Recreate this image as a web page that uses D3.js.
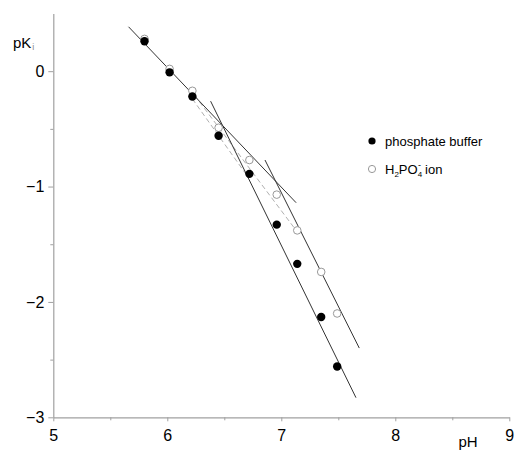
<!DOCTYPE html>
<html>
<head>
<meta charset="utf-8">
<script src="https://cdn.jsdelivr.net/npm/d3@7"></script>
<style>
  body { margin: 0; background: #fff; }
  svg { font-family: "Liberation Sans", Arial, sans-serif; }
</style>
</head>
<body>
<svg id="chart" width="515" height="451"></svg>
<script>
// measured values
const phBuffer = [5.80, 6.02, 6.22, 6.45, 6.72, 6.96, 7.14, 7.35, 7.49]
const pkBuffer = [0.26, -0.01, -0.22, -0.56, -0.89, -1.33, -1.67, -2.13, -2.56]
const phIon = [5.80, 6.02, 6.22, 6.45, 6.72, 6.96, 7.14, 7.35, 7.49]
const pkIon = [0.28, 0.02, -0.17, -0.49, -0.77, -1.07, -1.38, -1.74, -2.10]

// fitted lines, [x1, y1, x2, y2]
const solidFits = [
  [5.66, 0.385, 7.13, -1.14],
  [6.38, -0.26, 7.655, -2.83],
  [6.857, -0.77, 7.684, -2.40]
]
const dashedFits = [
  [6.22, -0.24, 6.71, -0.92],
  [6.24, -0.21, 7.13, -1.38]
]

const xTicks = [5, 6, 7, 8, 9]
const xMinor = [5.5, 6.5, 7.5, 8.5]
const yTicks = [-3, -2, -1, 0]
const yMinor = [-2.5, -1.5, -0.5]

const svg = d3.select("#chart")

const x = d3.scaleLinear().domain([5, 9]).range([53.3, 509.3])
const y = d3.scaleLinear().domain([-3, 0.5]).range([417.3, 13.5])

const axisColor = "#a0a0a0"

// x axis
const gx = svg.append("g").attr("transform", `translate(0,${y(-3)})`)
gx.call(d3.axisBottom(x).tickValues(xTicks).tickSize(4).tickSizeOuter(0).tickPadding(8).tickFormat(d3.format("d")))
gx.append("g").call(d3.axisBottom(x).tickValues(xMinor).tickSize(3).tickSizeOuter(0).tickFormat(""))
  .select(".domain").remove()

// y axis
const gy = svg.append("g").attr("transform", `translate(${x(5)},0)`)
gy.call(d3.axisLeft(y).tickValues(yTicks).tickSize(5).tickSizeOuter(0).tickPadding(4).tickFormat(d3.format("d")))
gy.append("g").call(d3.axisLeft(y).tickValues(yMinor).tickSize(3).tickSizeOuter(0).tickFormat(""))
  .select(".domain").remove()

svg.selectAll(".domain").attr("stroke", axisColor).attr("stroke-width", 1.2)
svg.selectAll(".tick line").attr("stroke", axisColor)
svg.selectAll(".tick text")
  .attr("fill", "#000")
  .style("font-size", "16px")

// axis titles
const yTitle = svg.append("text")
  .attr("x", 13)
  .attr("y", 48)
  .style("font-size", "15px")
  .attr("fill", "#000")
yTitle.append("tspan").text("pK")
yTitle.append("tspan").text("i").attr("dx", 1).attr("dy", 2).style("font-size", "9px").attr("fill", "#888")

svg.append("text")
  .attr("x", 468)
  .attr("y", 447)
  .attr("text-anchor", "middle")
  .style("font-size", "15px")
  .text("pH")

// dashed fits
svg.append("g").selectAll("line")
  .data(dashedFits)
  .join("line")
  .attr("x1", d => x(d[0])).attr("y1", d => y(d[1]))
  .attr("x2", d => x(d[2])).attr("y2", d => y(d[3]))
  .attr("stroke", "#b0b0b0")
  .attr("stroke-width", 1)
  .attr("stroke-dasharray", "5,3")

// solid fits
svg.append("g").selectAll("line")
  .data(solidFits)
  .join("line")
  .attr("x1", d => x(d[0])).attr("y1", d => y(d[1]))
  .attr("x2", d => x(d[2])).attr("y2", d => y(d[3]))
  .attr("stroke", "#333")
  .attr("stroke-width", 1)

// open circles (H2PO4- ion)
svg.append("g").selectAll("circle")
  .data(d3.zip(phIon, pkIon))
  .join("circle")
  .attr("cx", d => x(d[0]))
  .attr("cy", d => y(d[1]))
  .attr("r", 3.8)
  .attr("fill", "#fff")
  .attr("stroke", "#999")
  .attr("stroke-width", 1)

// filled circles (phosphate buffer)
svg.append("g").selectAll("circle")
  .data(d3.zip(phBuffer, pkBuffer))
  .join("circle")
  .attr("cx", d => x(d[0]))
  .attr("cy", d => y(d[1]))
  .attr("r", 4.2)
  .attr("fill", "#000")

// legend
const legend = svg.append("g").attr("transform", "translate(372,141)")
legend.append("circle").attr("r", 3.6).attr("fill", "#000")
legend.append("text").attr("x", 13).attr("y", 5).style("font-size", "13px").text("phosphate buffer")
legend.append("circle").attr("cy", 28).attr("r", 3.6).attr("fill", "#fff").attr("stroke", "#999")
const ion = legend.append("text").attr("x", 13).attr("y", 33).style("font-size", "13px")
ion.append("tspan").text("H")
ion.append("tspan").text("2").attr("dy", 3).style("font-size", "8px")
ion.append("tspan").text("PO").attr("dy", -3)
ion.append("tspan").text("4").attr("dy", 3).style("font-size", "8px")
ion.append("tspan").text("-").attr("dx", -4).attr("dy", -9).style("font-size", "9px")
ion.append("tspan").text("ion").attr("dx", 4).attr("dy", 6)
</script>
</body>
</html>
